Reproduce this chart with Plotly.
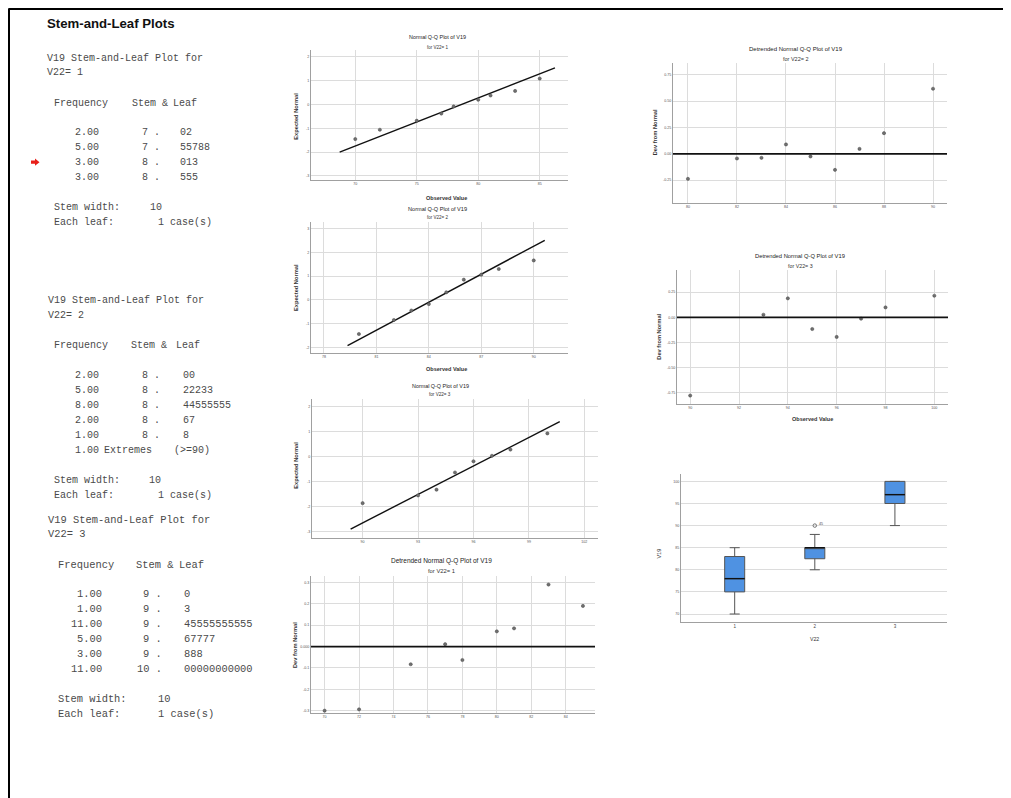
import plotly.graph_objects as go

# The page body adds an 8px margin, so the figure occupies the window from (8, 8).
OFF = 8
W, H = 1011 - OFF, 798 - OFF
SANS = "Liberation Sans, Arial, sans-serif"
MONO = "Liberation Mono, Courier New, monospace"


def fx(x):
    return (x - OFF) / W


def fy(y):
    return 1 - (y - OFF) / H


# ---------------- data ----------------
# Normal Q-Q plots (observed value, expected normal) and fitted normal line
qq1_obs = [70, 72, 75, 77, 78, 80, 81, 83, 85]
qq1_exp = [-1.45, -1.06, -0.68, -0.38, -0.08, 0.20, 0.38, 0.57, 1.09]
qq1_line_x = [68.73, 86.24]
qq1_line_z = [-2.0, 1.54]

qq2_obs = [80, 82, 83, 84, 85, 86, 87, 88, 90]
qq2_exp = [-1.44, -0.85, -0.45, -0.18, 0.32, 0.85, 1.06, 1.30, 1.66]
qq2_line_x = [79.35, 90.63]
qq2_line_z = [-1.93, 2.51]

qq3_obs = [90, 93, 94, 95, 96, 97, 98, 100]
qq3_exp = [-1.87, -1.56, -1.33, -0.64, -0.19, 0.03, 0.28, 0.93]
qq3_line_x = [89.35, 100.67]
qq3_line_z = [-2.91, 1.40]

# Detrended normal Q-Q plots
det1_obs = [70, 72, 75, 77, 78, 80, 81, 83, 85]
det1_dev = [-0.300, -0.294, -0.083, 0.011, -0.063, 0.071, 0.085, 0.290, 0.190]
det2_obs = [80, 82, 83, 84, 85, 86, 87, 88, 90]
det2_dev = [-0.237, -0.044, -0.038, 0.089, -0.025, -0.152, 0.047, 0.196, 0.617]
det3_obs = [90, 93, 94, 95, 96, 97, 98, 100]
det3_dev = [-0.778, 0.026, 0.189, -0.116, -0.195, -0.013, 0.099, 0.215]

# Boxplot of V19 by V22
box_groups = [1, 2, 3]
box_q1 = [75, 82.5, 95]
box_median = [78, 85, 97]
box_q3 = [83, 85, 100]
box_low = [70, 80, 90]
box_high = [85, 88, 100]
outlier_x = [2]
outlier_y = [90]
outlier_label = ["45"]

# Stem-and-leaf tables
sl_groups = ["1", "2", "3"]
sl1_freq = ["2.00", "5.00", "3.00", "3.00"]
sl1_stem = ["7", "7", "8", "8"]
sl1_leaf = ["02", "55788", "013", "555"]
sl2_freq = ["2.00", "5.00", "8.00", "2.00", "1.00", "1.00"]
sl2_stem = ["8", "8", "8", "8", "8", "Extremes"]
sl2_leaf = ["00", "22233", "44555555", "67", "8", "(>=90)"]
sl3_freq = ["1.00", "1.00", "11.00", "5.00", "3.00", "11.00"]
sl3_stem = ["9", "9", "9", "9", "9", "10"]
sl3_leaf = ["0", "3", "45555555555", "67777", "888", "00000000000"]

# tick labels
qq1_xticks = [70, 75, 80, 85]
qq1_yticks = [-3, -2, -1, 0, 1, 2]
qq2_xticks = [78, 81, 84, 87, 90]
qq2_yticks = [-2, -1, 0, 1, 2, 3]
qq3_xticks = [90, 93, 96, 99, 102]
qq3_yticks = [-3, -2, -1, 0, 1, 2]
det1_xticks = [70, 72, 74, 76, 78, 80, 82, 84]
det1_yticks = [-0.3, -0.2, -0.1, 0.0, 0.1, 0.2, 0.3]
det1_yticktext = ["-0.3", "-0.2", "-0.1", "0.000", "0.1", "0.2", "0.3"]
det2_xticks = [80, 82, 84, 86, 88, 90]
det2_yticks = [-0.25, 0.0, 0.25, 0.50, 0.75]
det2_yticktext = ["-0.25", "0.00", "0.25", "0.50", "0.75"]
det3_xticks = [90, 92, 94, 96, 98, 100]
det3_yticks = [-0.75, -0.50, -0.25, 0.0, 0.25]
det3_yticktext = ["-0.75", "-0.50", "-0.25", "0.00", "0.25"]
box_yticks = [70, 75, 80, 85, 90, 95, 100]

# ---------------- panel geometry (window pixels) ----------------
P = {
    "qq1": dict(n="", l=311, r=568, t=50, b=180, xr=[66.4, 87.3], yr=[-3.17, 2.29]),
    "qq2": dict(n="2", l=311, r=568, t=222, b=353, xr=[77.26, 91.96], yr=[-2.24, 3.28]),
    "qq3": dict(n="3", l=312, r=598, t=399, b=538, xr=[87.26, 102.74], yr=[-3.27, 2.31]),
    "det1": dict(n="4", l=311, r=595, t=576, b=713, xr=[69.21, 85.7], yr=[-0.311, 0.33]),
    "det2": dict(n="5", l=673, r=947, t=63, b=203, xr=[79.39, 90.57], yr=[-0.466, 0.861]),
    "det3": dict(n="6", l=677, r=948, t=270, b=404, xr=[89.46, 100.56], yr=[-0.862, 0.471]),
    "box": dict(n="7", l=681, r=947, t=474, b=622, xr=[0.33, 3.65], yr=[68.19, 101.67]),
}

fig = go.Figure()
layout = {}

GRID = "#dcdcdc"
AXL = "#a0a0a0"
TICKF = dict(size=3.6, color="#555", family=SANS)


def set_axes(key, xticks, yticks, xtext=None, ytext=None, xgrid=True):
    p = P[key]
    n = p["n"]
    layout["xaxis" + n] = dict(
        domain=[fx(p["l"]), fx(p["r"])], range=p["xr"], anchor="y" + n,
        tickvals=xticks, ticktext=xtext if xtext else [str(v) for v in xticks],
        showgrid=xgrid, gridcolor=GRID, gridwidth=1, showline=True, linecolor=AXL,
        linewidth=1, ticks="", zeroline=False, tickfont=TICKF, fixedrange=True)
    layout["yaxis" + n] = dict(
        domain=[fy(p["b"]), fy(p["t"])], range=p["yr"], anchor="x" + n,
        tickvals=yticks, ticktext=ytext if ytext else [str(v) for v in yticks],
        showgrid=True, gridcolor=GRID, gridwidth=1, showline=True, linecolor=AXL,
        linewidth=1, ticks="", zeroline=False, tickfont=TICKF, fixedrange=True)


set_axes("qq1", qq1_xticks, qq1_yticks)
set_axes("qq2", qq2_xticks, qq2_yticks)
set_axes("qq3", qq3_xticks, qq3_yticks)
set_axes("det1", det1_xticks, det1_yticks, ytext=det1_yticktext)
set_axes("det2", det2_xticks, det2_yticks, ytext=det2_yticktext)
set_axes("det3", det3_xticks, det3_yticks, ytext=det3_yticktext)
set_axes("box", box_groups, box_yticks, xgrid=False)
layout["xaxis7"]["tickfont"] = dict(size=4.5, color="#444", family=SANS)

MARK = dict(size=3.2, color="#707070", line=dict(width=0.5, color="#444"))


def axref(key):
    n = P[key]["n"]
    return "x" + n, "y" + n


# Q-Q plots
for key, ox, ex, lx, lz in [("qq1", qq1_obs, qq1_exp, qq1_line_x, qq1_line_z),
                            ("qq2", qq2_obs, qq2_exp, qq2_line_x, qq2_line_z),
                            ("qq3", qq3_obs, qq3_exp, qq3_line_x, qq3_line_z)]:
    xa, ya = axref(key)
    fig.add_trace(go.Scatter(x=lx, y=lz, mode="lines", line=dict(color="#111", width=1.4),
                             xaxis=xa, yaxis=ya, showlegend=False, hoverinfo="skip"))
    fig.add_trace(go.Scatter(x=ox, y=ex, mode="markers", marker=MARK,
                             xaxis=xa, yaxis=ya, showlegend=False))

shapes = []
# Detrended plots
for key, ox, dv in [("det1", det1_obs, det1_dev), ("det2", det2_obs, det2_dev),
                    ("det3", det3_obs, det3_dev)]:
    xa, ya = axref(key)
    shapes.append(dict(type="line", xref=xa + " domain", yref=ya, x0=0, x1=1, y0=0, y1=0,
                       line=dict(color="#111", width=1.8), layer="above"))
    fig.add_trace(go.Scatter(x=ox, y=dv, mode="markers", marker=MARK,
                             xaxis=xa, yaxis=ya, showlegend=False))

# Boxplot
BOXW = 0.25
fig.add_trace(go.Box(x=box_groups, q1=box_q1, median=box_median, q3=box_q3,
                     lowerfence=box_low, upperfence=box_high, width=BOXW, whiskerwidth=0.5,
                     fillcolor="#4f92e2", line=dict(color="#555", width=1),
                     boxpoints=False, xaxis="x7", yaxis="y7", showlegend=False))
for g, m in zip(box_groups, box_median):
    shapes.append(dict(type="line", xref="x7", yref="y7", x0=g - BOXW / 2, x1=g + BOXW / 2,
                       y0=m, y1=m, line=dict(color="#111", width=1.4)))
fig.add_trace(go.Scatter(x=outlier_x, y=outlier_y, mode="markers",
                         marker=dict(symbol="circle-open", size=3.5, color="#555", line=dict(width=0.8)),
                         xaxis="x7", yaxis="y7", showlegend=False))

annotations = []


def ann(x, y, text, size, color="#222", xanchor="center", yanchor="middle",
        family=SANS, angle=0):
    annotations.append(dict(x=fx(x), y=fy(y), xref="paper", yref="paper", text=text,
                            showarrow=False, xanchor=xanchor, yanchor=yanchor,
                            textangle=angle, borderpad=0,
                            font=dict(size=size, color=color, family=family)))


for ox, oy, lab in zip(outlier_x, outlier_y, outlier_label):
    annotations.append(dict(x=ox, y=oy, xref="x7", yref="y7", text=lab, showarrow=False,
                            xshift=6, yshift=2, font=dict(size=3.6, color="#444", family=SANS)))

# panel titles
titles = [
    ("Normal Q-Q Plot of V19", "for V22= 1", 437, 37, 47, 5.4, 4.5),
    ("Normal Q-Q Plot of V19", "for V22= 2", 437, 208.7, 217.3, 5.6, 4.5),
    ("Normal Q-Q Plot of V19", "for V22= 3", 440, 385.7, 395, 5.4, 4.6),
    ("Detrended Normal Q-Q Plot of V19", "for V22= 1", 441.5, 560.7, 570.7, 6.5, 5.8),
    ("Detrended Normal Q-Q Plot of V19", "for V22= 2", 796, 49, 59, 6.0, 5.5),
    ("Detrended Normal Q-Q Plot of V19", "for V22= 3", 800, 256, 265.7, 5.8, 5.3),
]
for t, s, x, y1, y2, s1, s2 in titles:
    ann(x, y1, t, s1, "#222")
    ann(x, y2, s, s2, "#333")

# axis titles
for text, x, y in [("Expected Normal", 296, 116.7), ("Expected Normal", 296, 288),
                   ("Expected Normal", 296, 465.7), ("Dev from Normal", 295, 645),
                   ("Dev from Normal", 655, 132.3), ("Dev from Normal", 659, 336.7)]:
    ann(x, y, "<b>" + text + "</b>", 5.7, "#333", angle=-90)
ann(659.3, 553.3, "V19", 5.5, "#333", angle=-90)
for text, x, y in [("Observed Value", 446, 198), ("Observed Value", 446.7, 368.7),
                   ("Observed Value", 812, 419)]:
    ann(x, y, "<b>" + text + "</b>", 5.5, "#333")
ann(814, 639, "V22", 5.2, "#333")

# ---------------- stem-and-leaf text ----------------
ann(46, 24, "<b>Stem-and-Leaf Plots</b>", 13.2, "#111", xanchor="left")

TXT = "#4a4a4a"
blocks = [
    dict(top=58.3, step=15.0, hx=46, fqx=52.7, sthx=131, lfhx=172, freqr=100, stemr=161,
         leafl=179, swx=52.7, sw10=148.5, caser=213, size=10.0),
    dict(top=300.7, step=15.0, hx=46.7, fqx=52.7, sthx=130, lfhx=175, freqr=100, stemr=160.5,
         leafl=182, swx=52.7, sw10=148.3, caser=213, size=10.0),
    dict(top=520.0, step=14.94, hx=47.3, fqx=56.7, sthx=135, lfhx=178, freqr=103.3, stemr=163.3,
         leafl=183.3, swx=57.3, sw10=156.7, caser=215, size=10.4),
]
tables = [(sl1_freq, sl1_stem, sl1_leaf), (sl2_freq, sl2_stem, sl2_leaf),
          (sl3_freq, sl3_stem, sl3_leaf)]

for g, b, (fq, st, lf) in zip(sl_groups, blocks, tables):
    sz = b["size"]
    top = b["top"]
    ann(b["hx"], top, "V19 Stem-and-Leaf Plot for", sz, TXT, "left", family=MONO)
    ann(b["hx"], top + 14.4, "V22= " + g, sz, TXT, "left", family=MONO)
    ann(b["fqx"], top + 45, "Frequency", sz, TXT, "left", family=MONO)
    ann(b["sthx"], top + 45, "Stem &", sz, TXT, "left", family=MONO)
    ann(b["lfhx"], top + 45, "Leaf", sz, TXT, "left", family=MONO)
    y = top + 74.4
    for i, (f, s, l) in enumerate(zip(fq, st, lf)):
        y = top + 74.4 + i * b["step"]
        ann(b["freqr"], y, f, sz, TXT, "right", family=MONO)
        if s == "Extremes":
            ann(b["freqr"] + 3, y, s, sz, TXT, "left", family=MONO)
            ann(173, y, l, sz, TXT, "left", family=MONO)
        else:
            ann(b["stemr"], y, s + " .", sz, TXT, "right", family=MONO)
            ann(b["leafl"], y, l, sz, TXT, "left", family=MONO)
    ysw = y + 30.2
    ann(b["swx"], ysw, "Stem width:", sz, TXT, "left", family=MONO)
    ann(b["sw10"], ysw, "10", sz, TXT, "left", family=MONO)
    ann(b["swx"], ysw + 15, "Each leaf:", sz, TXT, "left", family=MONO)
    ann(b["caser"], ysw + 15, "1 case(s)", sz, TXT, "right", family=MONO)

# red arrow marker next to the third row of the first table
arrow_pts = [(31, 160.6), (35, 160.6), (35, 158.6), (39.5, 162.2), (35, 165.8), (35, 163.8), (31, 163.8)]
path = "M " + " L ".join("%.5f %.5f" % (fx(a), fy(c)) for a, c in arrow_pts) + " Z"
shapes.append(dict(type="path", xref="paper", yref="paper", path=path,
                   fillcolor="#e8201a", line=dict(width=0)))

# page border (left and top)
shapes.append(dict(type="line", xref="paper", yref="paper", x0=fx(9), x1=fx(9), y0=fy(8.6), y1=0,
                   line=dict(color="#000", width=2)))
shapes.append(dict(type="line", xref="paper", yref="paper", x0=fx(8.6), x1=1, y0=fy(9), y1=fy(9),
                   line=dict(color="#000", width=2)))

fig.update_layout(
    width=W, height=H, margin=dict(l=0, r=0, t=0, b=0),
    paper_bgcolor="white", plot_bgcolor="white",
    font=dict(family=SANS, color="#333"),
    showlegend=False, annotations=annotations, shapes=shapes,
    **layout,
)

fig.write_html("out.html")
